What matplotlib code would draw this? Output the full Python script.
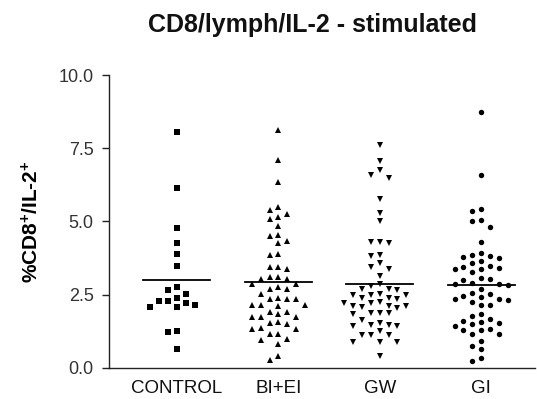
import numpy as np
import matplotlib
matplotlib.use("Agg")
import matplotlib.pyplot as plt

plt.rcParams['font.family'] = ['Liberation Sans', 'DejaVu Sans']
plt.rcParams['mathtext.fontset'] = 'custom'
plt.rcParams['mathtext.rm'] = 'Liberation Sans'
plt.rcParams['mathtext.it'] = 'Liberation Sans'
plt.rcParams['mathtext.bf'] = 'Liberation Sans:bold'

categories = ["CONTROL", "BI+EI", "GW", "GI"]

control = [8.07, 6.14, 4.79, 4.27, 3.88, 3.49, 2.76, 2.67, 2.51, 2.37, 2.30,
           2.28, 2.20, 2.14, 2.08, 2.08, 1.26, 1.23, 0.63]
bi_ei = [8.13, 7.09, 6.33, 5.49, 5.39, 5.26, 5.16, 5.09, 4.86, 4.54, 4.51,
         4.33, 4.27, 3.88, 3.84, 3.45, 3.43, 3.36, 3.11, 3.11, 3.02, 3.02,
         2.86, 2.85, 2.77, 2.71, 2.71, 2.52, 2.39, 2.35, 2.35, 2.34, 2.16,
         2.16, 2.16, 2.12, 1.91, 1.91, 1.83, 1.74, 1.74, 1.74, 1.57, 1.53,
         1.51, 1.36, 1.34, 1.34, 1.17, 1.14, 0.97, 0.94, 0.83, 0.40, 0.26]
gw = [7.62, 7.06, 6.74, 6.59, 6.49, 5.75, 5.30, 5.03, 4.31, 4.27, 4.29,
      3.85, 3.82, 3.57, 3.36, 3.43, 3.13, 2.86, 2.80, 2.71, 2.65, 2.71,
      2.48, 2.48, 2.37, 2.34, 2.25, 2.40, 2.48, 2.52, 2.22, 2.12, 2.12,
      2.03, 2.08, 2.12, 2.20, 1.88, 1.83, 1.88, 1.86, 1.63, 1.48, 1.48,
      1.26, 1.43, 1.43, 1.53, 1.11, 1.11, 1.11, 0.88, 0.88, 0.88, 0.40]
gi = [8.73, 6.60, 5.44, 5.36, 5.05, 5.02, 4.82, 4.29, 3.93, 3.85, 3.79,
      3.74, 3.82, 3.65, 3.57, 3.45, 3.37, 3.26, 3.37, 3.42, 3.49, 3.05,
      3.00, 3.08, 2.90, 2.86, 2.83, 2.85, 2.69, 2.52, 2.56, 2.45, 2.35,
      2.31, 2.25, 2.34, 2.42, 2.16, 2.14, 1.83, 1.76, 1.59, 1.53, 1.49,
      1.57, 1.66, 1.43, 1.32, 1.28, 1.31, 1.14, 1.17, 0.92, 0.74, 0.66,
      0.23, 0.34]

groups = [control, bi_ei, gw, gi]
markers = ['s', '^', 'v', 'o']
msizes = [4.5, 4.2, 4.2, 3.9]

yticks = [0.0, 2.5, 5.0, 7.5, 10.0]
ytick_labels = ["0.0", "2.5", "5.0", "7.5", "10.0"]

fig = plt.figure(figsize=(5.37, 3.99), dpi=100)
ax = fig.add_axes([0.203, 0.078, 0.793, 0.734])
ax.set_xlim(-0.67, 3.53)
ax.set_ylim(0, 10)

slot = 0.087     # horizontal step between neighbouring points
row_h = 0.26     # vertical collision distance


def swarm(vals):
    order = np.argsort(vals)[::-1]
    placed = []
    offs = np.zeros(len(vals))
    cands = [0]
    for j in range(1, 10):
        cands += [-j, j]
    for i in order:
        v = vals[i]
        k = 0
        for c in cands:
            if all(not (pc == c and abs(pv - v) < row_h) for pc, pv in placed):
                k = c
                break
        placed.append((k, v))
        offs[i] = k * slot
    return offs


for gi_, (vals, mk, ms) in enumerate(zip(groups, markers, msizes)):
    vals = np.asarray(vals)
    xs = gi_ + swarm(vals)
    ax.plot(xs, vals, linestyle='none', marker=mk, markersize=ms,
            color='black', markeredgewidth=0, zorder=3)
    m = vals.mean()
    ax.plot([gi_ - 0.33, gi_ + 0.33], [m, m], color='black', lw=1.3, zorder=2)

ax.spines['top'].set_visible(False)
ax.spines['right'].set_visible(False)
ax.spines['left'].set_color('#222222')
ax.spines['bottom'].set_color('#222222')
ax.spines['left'].set_linewidth(1.0)
ax.spines['bottom'].set_linewidth(1.0)

ax.set_yticks(yticks)
ax.set_yticklabels(ytick_labels, fontsize=13, color='#333333')
ax.tick_params(axis='y', length=5, width=1, color='#222222', pad=6)
ax.set_xticks(range(len(categories)))
ax.set_xticklabels(categories, fontsize=13.5, color='#111111')
ax.tick_params(axis='x', length=0, pad=9)

ax.set_ylabel(r'%CD8$^{\mathbf{+}}$/IL-2$^{\mathbf{+}}$', fontsize=15,
              fontweight='bold', labelpad=12)
fig.text(0.582, 0.937, "CD8/lymph/IL-2 - stimulated", fontsize=18,
         fontweight='bold', ha='center', va='center', color='#111111')

fig.savefig("out.png", dpi=100)
